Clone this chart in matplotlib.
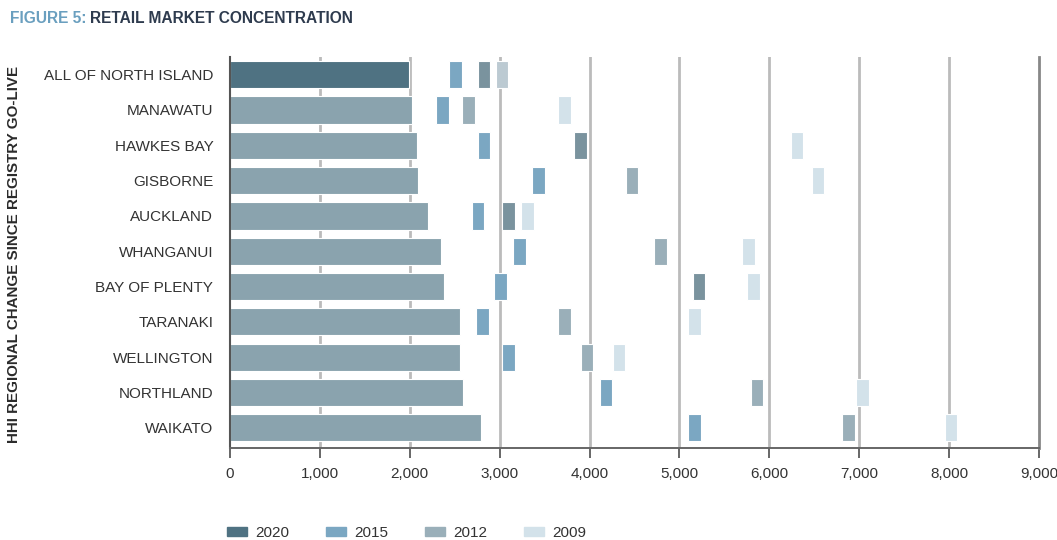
import numpy as np
from matplotlib import pyplot as plt
from matplotlib.patches import Patch

plt.rcParams['font.family'] = ['Liberation Sans', 'DejaVu Sans']

regions = ['ALL OF NORTH ISLAND', 'MANAWATU', 'HAWKES BAY', 'GISBORNE', 'AUCKLAND',
           'WHANGANUI', 'BAY OF PLENTY', 'TARANAKI', 'WELLINGTON', 'NORTHLAND', 'WAIKATO']
hhi_2020 = [1990, 2025, 2077, 2095, 2203, 2343, 2380, 2562, 2562, 2596, 2793]
hhi_2015 = [2510, 2365, 2825, 3435, 2759, 3222, 3007, 2810, 3096, 4182, 5167]
hhi_2012 = [2825, 2651, 3900, 4472, 3096, 4790, 5219, 3723, 3971, 5862, 6878]
hhi_2009 = [3025, 3723, 6307, 6539, 3308, 5771, 5825, 5167, 4327, 7037, 8020]
x_ticks = [0, 1000, 2000, 3000, 4000, 5000, 6000, 7000, 8000, 9000]

col_2020 = '#4f7282'
col_bar = '#8aa3ae'
col_2015 = '#7ba7c2'
col_2012 = '#9aafb9'
col_2012_dark = '#7a939e'
col_2009 = '#d3e2ea'
col_2009_dark = '#bccad2'
dark_2012 = {0, 2, 4, 6}
text_col = '#333333'

fig = plt.figure(figsize=(10.57, 5.4), dpi=100)
ax = fig.add_axes([0.2176, 0.1704, 0.7654, 0.724])

y = np.arange(len(regions))
bar_colors = [col_2020 if i == 0 else col_bar for i in y]
ax.barh(y, hhi_2020, height=0.77, color=bar_colors, edgecolor='white', linewidth=0.8, zorder=2)

# year markers drawn as narrow bars centred on each value
w = 140
c12 = [col_2012_dark if i in dark_2012 else col_2012 for i in y]
c09 = [col_2009_dark if i == 0 else col_2009 for i in y]
for vals, cols in [(hhi_2015, [col_2015] * len(y)), (hhi_2012, c12), (hhi_2009, c09)]:
    ax.barh(y, w, left=np.array(vals) - w / 2, height=0.77, color=cols,
            edgecolor='white', linewidth=0.8, zorder=3)

ax.set_xlim(0, 9000)
ax.set_ylim(10.57, -0.5)
ax.set_xticks(x_ticks)
ax.set_xticklabels([f'{v:,}' for v in x_ticks], fontsize=11, color=text_col)
ax.set_yticks(y)
ax.set_yticklabels(regions, fontsize=11, color=text_col)
ax.tick_params(axis='y', length=0, pad=12)
ax.tick_params(axis='x', length=7, width=1.4, color='#666666', pad=7)

for v in x_ticks[1:-1]:
    ax.axvline(v, color='#bbbbbb', linewidth=2, zorder=1)

ax.spines['top'].set_visible(False)
ax.spines['left'].set_color('#555555')
ax.spines['left'].set_linewidth(1.5)
ax.spines['bottom'].set_color('#666666')
ax.spines['bottom'].set_linewidth(1.4)
ax.spines['right'].set_color('#888888')
ax.spines['right'].set_linewidth(2)

ax.set_ylabel('HHI REGIONAL CHANGE SINCE REGISTRY GO-LIVE', fontsize=10.9, fontweight='bold',
              color='#2b2b2b')
ax.yaxis.set_label_coords(-0.258, 0.495)

# two-colour title
t1 = fig.text(0.0095, 0.965, 'FIGURE 5:', fontsize=11.2, fontweight='bold', color='#6a9fbf', va='center')
fig.canvas.draw()
bb = t1.get_window_extent().transformed(fig.transFigure.inverted())
fig.text(bb.x1 + 0.003, 0.965, 'RETAIL MARKET CONCENTRATION', fontsize=11.2, fontweight='bold',
         color='#2e3b4e', va='center')

handles = [Patch(color=col_2020, label='2020'), Patch(color=col_2015, label='2015'),
           Patch(color=col_2012, label='2012'), Patch(color=col_2009, label='2009')]
fig.legend(handles=handles, loc='center left', bbox_to_anchor=(0.202, 0.013), ncol=4, frameon=False,
           fontsize=11, handlelength=1.3, handleheight=0.45, columnspacing=2.4, handletextpad=0.55,
           labelcolor=text_col)

fig.savefig('out.png', dpi=100)
